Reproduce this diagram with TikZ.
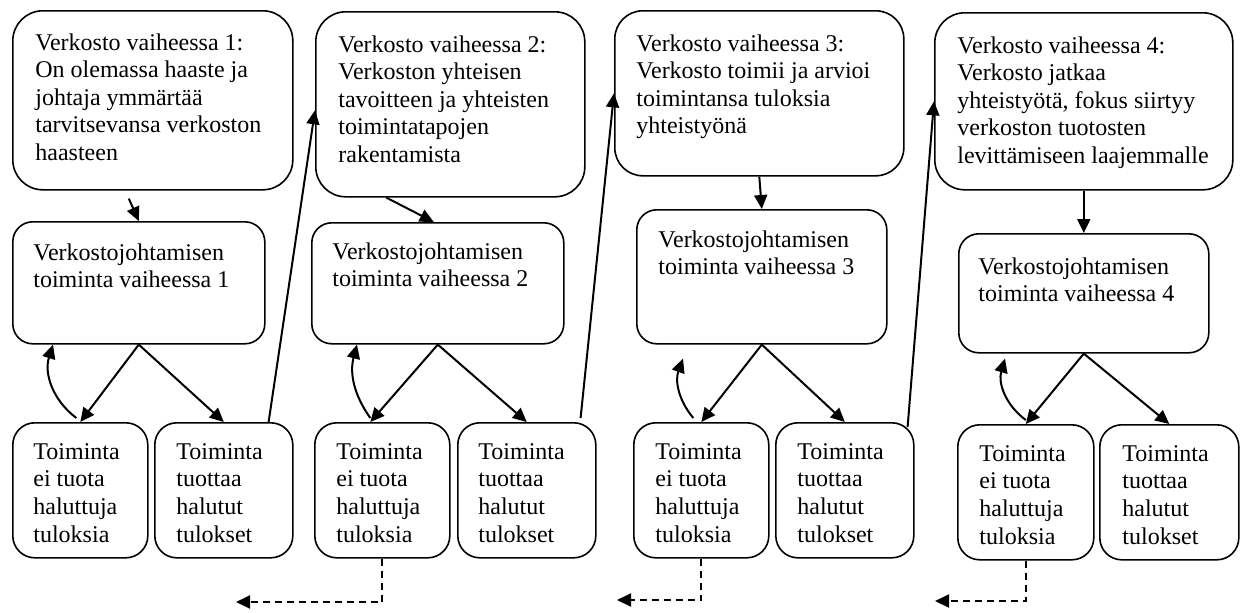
\documentclass[tikz,border=0pt]{standalone}
\usepackage{fontspec}
\setmainfont{Liberation Serif}
\usetikzlibrary{arrows.meta,positioning}

\begin{document}
\begin{tikzpicture}[x=0.5pt,y=-0.5pt,
  box/.style={draw,line width=.8pt,inner sep=0pt,anchor=north west},
  mid/.style={box,rounded corners=10pt,minimum width=126pt,minimum height=61pt},
  res/.style={box,rounded corners=11pt,minimum width=68pt,minimum height=67.5pt},
  txt/.style={inner sep=0pt,align=left,font=\fontsize{12}{13.8}\selectfont},
  arr/.style={line width=1pt,-{Triangle[length=7pt,width=6.5pt]}},
  dashline/.style={arr,dash pattern=on 3.5pt off 2.5pt}]
\useasboundingbox (0,0) rectangle (1242,612);
% vaiheet
\node[box,rounded corners=15pt,minimum width=140pt,minimum height=89.5pt] (t1) at (12,10) {};
\node[box,rounded corners=15pt,minimum width=134.5pt,minimum height=92.5pt] (t2) at (315,11) {};
\node[box,rounded corners=14pt,minimum width=144.5pt,minimum height=82.5pt] (t3) at (614,10) {};
\node[box,rounded corners=15pt,minimum width=149pt,minimum height=88.5pt] (t4) at (934,12) {};
\node[txt,below right=11.5pt and 11.5pt of t1.north west] (t1txt) {Verkosto vaiheessa 1:\\On olemassa haaste ja\\johtaja ymmärtää\\tarvitsevansa verkoston\\haasteen};
\node[txt,below right=12pt and 11.5pt of t2.north west] (t2txt) {Verkosto vaiheessa 2:\\Verkoston yhteisen\\tavoitteen ja yhteisten\\toimintatapojen\\rakentamista};
\node[txt,below right=12pt and 11pt of t3.north west] (t3txt) {Verkosto vaiheessa 3:\\Verkosto toimii ja arvioi\\toimintansa tuloksia\\yhteistyönä};
\node[txt,below right=12pt and 11.5pt of t4.north west] (t4txt) {Verkosto vaiheessa 4:\\Verkosto jatkaa\\yhteistyötä, fokus siirtyy\\verkoston tuotosten\\levittämiseen laajemmalle};
% johtaminen
\node[mid] (m1) at (12,221) {};
\node[mid,minimum height=60.5pt] (m2) at (311,222) {};
\node[mid,minimum width=125pt,minimum height=67pt] (m3) at (636,209) {};
\node[mid,minimum width=125pt,minimum height=59.5pt] (m4) at (958,233) {};
\node[txt,below right=11pt and 10.5pt of m1.north west] (m1txt) {Verkostojohtamisen\\toiminta vaiheessa 1};
\node[txt,below right=10pt and 10.5pt of m2.north west] (m2txt) {Verkostojohtamisen\\toiminta vaiheessa 2};
\node[txt,below right=10.5pt and 11pt of m3.north west] (m3txt) {Verkostojohtamisen\\toiminta vaiheessa 3};
\node[txt,below right=12pt and 10pt of m4.north west] (m4txt) {Verkostojohtamisen\\toiminta vaiheessa 4};
% tulokset
\node[res,minimum width=67.5pt] (b1a) at (12,422) {};
\node[res,minimum width=69pt] (b1b) at (154,422) {};
\node[res,minimum width=67.5pt] (b2a) at (314,422) {};
\node[res,minimum width=69pt] (b2b) at (457,422) {};
\node[res,minimum width=67.5pt] (b3a) at (633,422) {};
\node[res,minimum width=69pt] (b3b) at (775,422) {};
\node[res] (b4a) at (957,424) {};
\node[res,minimum width=69.5pt] (b4b) at (1099,424) {};
\node[txt,below right=10.5pt and 10.5pt of b1a.north west] (b1atxt) {Toiminta\\ei tuota\\haluttuja\\tuloksia};
\node[txt,below right=10.5pt and 11pt of b1b.north west] (b1btxt) {Toiminta\\tuottaa\\halutut\\tulokset};
\node[txt,below right=10.5pt and 11pt of b2a.north west] (b2atxt) {Toiminta\\ei tuota\\haluttuja\\tuloksia};
\node[txt,below right=10.5pt and 10.5pt of b2b.north west] (b2btxt) {Toiminta\\tuottaa\\halutut\\tulokset};
\node[txt,below right=10.5pt and 11pt of b3a.north west] (b3atxt) {Toiminta\\ei tuota\\haluttuja\\tuloksia};
\node[txt,below right=10.5pt and 11pt of b3b.north west] (b3btxt) {Toiminta\\tuottaa\\halutut\\tulokset};
\node[txt,below right=10.5pt and 11pt of b4a.north west] (b4atxt) {Toiminta\\ei tuota\\haluttuja\\tuloksia};
\node[txt,below right=10.5pt and 11.5pt of b4b.north west] (b4btxt) {Toiminta\\tuottaa\\halutut\\tulokset};
% nuolet
\draw[arr] ([xshift=-12pt,yshift=-4pt]t1.south) -- (m1.north);
\draw[arr] ([xshift=-32pt]t2.south) -- ([xshift=-2pt]m2.north);
\draw[arr] (t3.south) -- (m3.north);
\draw[arr] (t4.south) -- (m4.north);
\draw[arr] (m1.south) -- (b1a.north);
\draw[arr] (m1.south) -- (b1b.north);
\draw[arr] (m2.south) -- ([xshift=-6pt]b2a.north);
\draw[arr] (m2.south) -- (b2b.north);
\draw[arr] (m3.south) -- (b3a.north);
\draw[arr] (m3.south) -- (b3b.north);
\draw[arr] (m4.south) -- (b4a.north);
\draw[arr] (m4.south) -- (b4b.north);
\draw[arr] ([xshift=-2pt,yshift=2pt]b1a.north) to[bend left=35] ([xshift=20.5pt]m1.south west);
\draw[arr] ([xshift=-6pt,yshift=2pt]b2a.north) to[bend left=25] ([xshift=23pt]m2.south west);
\draw[arr] ([xshift=-4pt,yshift=2pt]b3a.north) to[bend left=30] ([xshift=23.5pt,yshift=-7pt]m3.south west);
\draw[arr] ([yshift=2pt]b4a.north) to[bend left=35] ([xshift=23.5pt,yshift=-2.5pt]m4.south west);
\draw[arr] ([xshift=-12.5pt]b1b.north east) -- ([yshift=-3pt]t2.west);
\draw[arr] ([xshift=-8pt,yshift=2pt]b2b.north east) -- (t3.west);
\draw[arr] ([xshift=-3.5pt,yshift=-2.5pt]b3b.north east) -- (t4.west);
% paluu
\coordinate (d2) at (236,602);
\coordinate (d3) at (617,600);
\coordinate (d4) at (935,601);
\draw[dashline] (b2a.south) |- (d2);
\draw[dashline] (b3a.south) |- (d3);
\draw[dashline] (b4a.south) |- (d4);
\end{tikzpicture}
\end{document}
